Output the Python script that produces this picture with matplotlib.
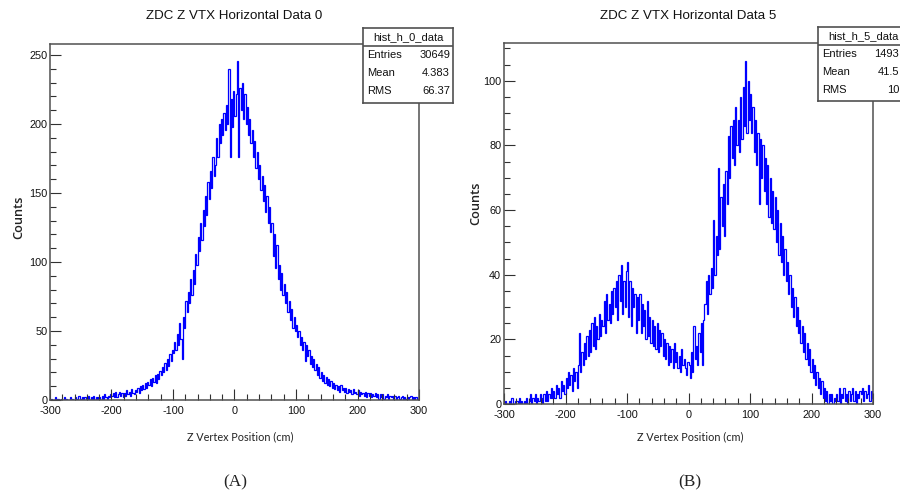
import numpy as np
import matplotlib
matplotlib.use("Agg")
import matplotlib.pyplot as plt
from matplotlib.ticker import MultipleLocator

W, H = 900, 497

# Counts per 2 cm bin, z from -300 cm to +300 cm (one row = 20 cm)
counts_data0 = [
    0, 1, 0, 0, 2, 0, 1, 0, 0, 1,
    0, 2, 0, 1, 0, 0, 2, 0, 1, 0,
    2, 0, 1, 3, 0, 1, 2, 0, 2, 1,
    1, 3, 0, 2, 1, 3, 0, 2, 1, 2,
    2, 0, 3, 1, 4, 2, 1, 3, 2, 4,
    3, 5, 2, 6, 2, 4, 6, 3, 5, 2,
    5, 3, 7, 4, 6, 3, 8, 5, 4, 7,
    6, 9, 5, 10, 7, 11, 8, 12, 9, 13,
    11, 15, 10, 16, 13, 18, 12, 19, 15, 21,
    18, 24, 20, 27, 22, 30, 25, 33, 28, 36,
    34, 42, 36, 48, 40, 56, 44, 30, 60, 52,
    72, 64, 78, 70, 88, 76, 94, 84, 106, 98,
    118, 108, 128, 116, 138, 126, 148, 134, 158, 146,
    166, 154, 176, 162, 170, 190, 176, 200, 186, 204,
    192, 208, 196, 214, 200, 240, 176, 218, 198, 224,
    206, 222, 246, 176, 226, 210, 230, 204, 222, 200,
    212, 192, 204, 186, 196, 176, 188, 168, 180, 160,
    170, 152, 162, 144, 156, 136, 148, 128, 140, 122,
    128, 104, 120, 96, 112, 88, 98, 80, 92, 76,
    84, 70, 78, 64, 72, 58, 66, 52, 60, 50,
    54, 46, 50, 40, 46, 36, 42, 28, 40, 32,
    36, 26, 32, 24, 30, 22, 26, 18, 24, 16,
    20, 14, 18, 12, 17, 11, 15, 10, 14, 9,
    12, 8, 11, 7, 10, 6, 11, 7, 9, 6,
    9, 5, 8, 6, 7, 4, 8, 5, 6, 4,
    7, 3, 6, 4, 5, 3, 6, 2, 5, 3,
    5, 2, 4, 3, 5, 2, 4, 1, 4, 2,
    4, 1, 3, 2, 4, 1, 3, 2, 3, 1,
    3, 1, 2, 3, 1, 2, 3, 0, 2, 1,
    2, 0, 2, 3, 1, 2, 0, 2, 1, 1,
]

counts_data5 = [
    0, 1, 0, 0, 1, 0, 2, 0, 0, 1,
    1, 0, 2, 0, 1, 0, 1, 0, 2, 0,
    1, 3, 0, 2, 1, 3, 0, 2, 1, 3,
    2, 0, 3, 1, 4, 1, 3, 2, 5, 2,
    4, 2, 6, 3, 5, 2, 7, 4, 6, 3,
    8, 5, 10, 6, 9, 4, 11, 7, 10, 5,
    12, 22, 10, 16, 12, 19, 14, 21, 15, 23,
    16, 25, 18, 27, 17, 24, 20, 28, 21, 26,
    24, 32, 22, 34, 26, 31, 25, 35, 28, 36,
    30, 38, 26, 40, 32, 43, 28, 38, 30, 41,
    44, 27, 38, 24, 36, 30, 34, 22, 33, 26,
    34, 22, 31, 24, 29, 20, 32, 21, 27, 19,
    26, 18, 24, 17, 25, 16, 23, 18, 22, 15,
    20, 14, 19, 12, 18, 13, 17, 11, 19, 13,
    16, 11, 15, 10, 17, 12, 14, 11, 9, 13,
    12, 8, 16, 10, 24, 14, 18, 12, 22, 16,
    25, 12, 26, 31, 38, 28, 40, 34, 42, 36,
    57, 40, 52, 46, 73, 48, 64, 55, 68, 52,
    72, 62, 83, 70, 86, 76, 88, 74, 92, 80,
    88, 78, 95, 82, 98, 86, 106, 84, 100, 88,
    96, 84, 92, 78, 88, 74, 84, 62, 82, 70,
    80, 66, 76, 62, 74, 58, 70, 56, 66, 54,
    64, 50, 60, 46, 56, 44, 52, 40, 48, 38,
    44, 34, 40, 30, 36, 27, 33, 24, 30, 22,
    26, 19, 24, 16, 22, 14, 19, 12, 17, 10,
    14, 8, 12, 6, 10, 5, 8, 3, 7, 2,
    5, 1, 4, 0, 3, 1, 3, 0, 2, 1,
    3, 1, 5, 0, 3, 2, 5, 1, 3, 0,
    4, 1, 3, 5, 1, 4, 0, 3, 2, 4,
    3, 5, 1, 4, 2, 3, 6, 1, 4, 2,
]

titles = ["ZDC Z VTX Horizontal Data 0", "ZDC Z VTX Horizontal Data 5"]
hist_names = ["hist_h_0_data", "hist_h_5_data"]
stat_labels = ["Entries", "Mean", "RMS"]
stats_data0 = ["30649", "4.383", "66.37"]
stats_data5 = ["1493", "41.5", "10"]
captions = ["(A)", "(B)"]
x_ticks = [-300, -200, -100, 0, 100, 200, 300]
y_ticks_data0 = [0, 50, 100, 150, 200, 250]
y_ticks_data5 = [0, 20, 40, 60, 80, 100]

plt.rcParams["font.family"] = ["Liberation Sans", "DejaVu Sans"]
plt.rcParams["axes.unicode_minus"] = False

fig = plt.figure(figsize=(W / 100, H / 100), dpi=100)
fig.patch.set_facecolor("white")


def frac(l, t, r, b):
    return [l / W, 1 - b / H, (r - l) / W, (b - t) / H]


def ftext(x, y, s, **kw):
    return fig.text(x / W, 1 - y / H, s, **kw)


panels = [
    dict(counts=counts_data0, rect=(50, 44, 419, 400), ymax=258, yticks=y_ticks_data0,
         yminor=10, title=titles[0], title_xy=(234, 16),
         name=hist_names[0], name_x=408, stats=stats_data0, box=(363, 28, 453, 103),
         head=46, val_x=450, ylab_xy=(19, 217), xlab_xy=(240, 437),
         cap_xy=(235, 482), caption=captions[0]),
    dict(counts=counts_data5, rect=(504, 43, 873, 404), ymax=111.7, yticks=y_ticks_data5,
         yminor=5, title=titles[1], title_xy=(688, 16),
         name=hist_names[1], name_x=863, stats=stats_data5, box=(818, 27, 912, 101),
         head=45, val_x=899, ylab_xy=(476, 203), xlab_xy=(690, 437),
         cap_xy=(690, 482), caption=captions[1]),
]

frame_color = "#505050"
text_color = "#111111"

for p in panels:
    ax = fig.add_axes(frac(*p["rect"]))
    vals = np.asarray(p["counts"], dtype=float)
    edges = np.linspace(-300, 300, len(vals) + 1)
    ax.stairs(vals, edges, color="#0000ff", lw=0.9, baseline=0)
    ax.set_xlim(-300, 300)
    ax.set_ylim(0, p["ymax"])
    ax.set_xticks(x_ticks)
    ax.set_yticks(p["yticks"])
    ax.xaxis.set_minor_locator(MultipleLocator(20))
    ax.yaxis.set_minor_locator(MultipleLocator(p["yminor"]))
    ax.tick_params(which="both", direction="in", top=False, right=False,
                   color="#303030", width=0.8, labelsize=7.8, pad=2,
                   labelcolor=text_color)
    ax.tick_params(axis="x", pad=4.5)
    ax.tick_params(which="major", length=8)
    ax.tick_params(which="minor", length=4)
    for sp in ax.spines.values():
        sp.set_color(frame_color)
        sp.set_linewidth(1.1)

    ftext(*p["title_xy"], p["title"], ha="center", va="center", fontsize=9.6,
          color=text_color)
    ftext(*p["ylab_xy"], "Counts", ha="center", va="center", rotation=90,
          fontsize=9.2, family=["Open Sans", "DejaVu Sans"], fontweight="semibold",
          color="#222222")
    ftext(*p["xlab_xy"], "Z Vertex Position (cm)", ha="center", va="center",
          fontsize=7.8, family=["Lato", "DejaVu Sans"], color="#222222")
    ftext(*p["cap_xy"], p["caption"], ha="center", va="center", fontsize=12.5,
          family=["Liberation Serif", "DejaVu Serif"], color="#222222")

    # statistics box
    l, t, r, b = p["box"]
    bax = fig.add_axes(frac(l, t, r, b))
    bax.set_xlim(l, r)
    bax.set_ylim(b, t)
    bax.set_xticks([])
    bax.set_yticks([])
    bax.set_facecolor("white")
    for sp in bax.spines.values():
        sp.set_color(frame_color)
        sp.set_linewidth(1.2)
    bax.plot([l, r], [p["head"], p["head"]], color=frame_color, lw=1.2)
    bax.text(p["name_x"], (t + p["head"]) / 2, p["name"], ha="center", va="center",
             fontsize=8.0, color=text_color)
    rows_y = [p["head"] + 9, p["head"] + 27, p["head"] + 45]
    for lab, val, yy in zip(stat_labels, p["stats"], rows_y):
        bax.text(l + 4, yy, lab, ha="left", va="center", fontsize=8.0, color=text_color)
        bax.text(p["val_x"], yy, val, ha="right", va="center", fontsize=8.0,
                 color=text_color)

fig.savefig("out.png", dpi=100)
